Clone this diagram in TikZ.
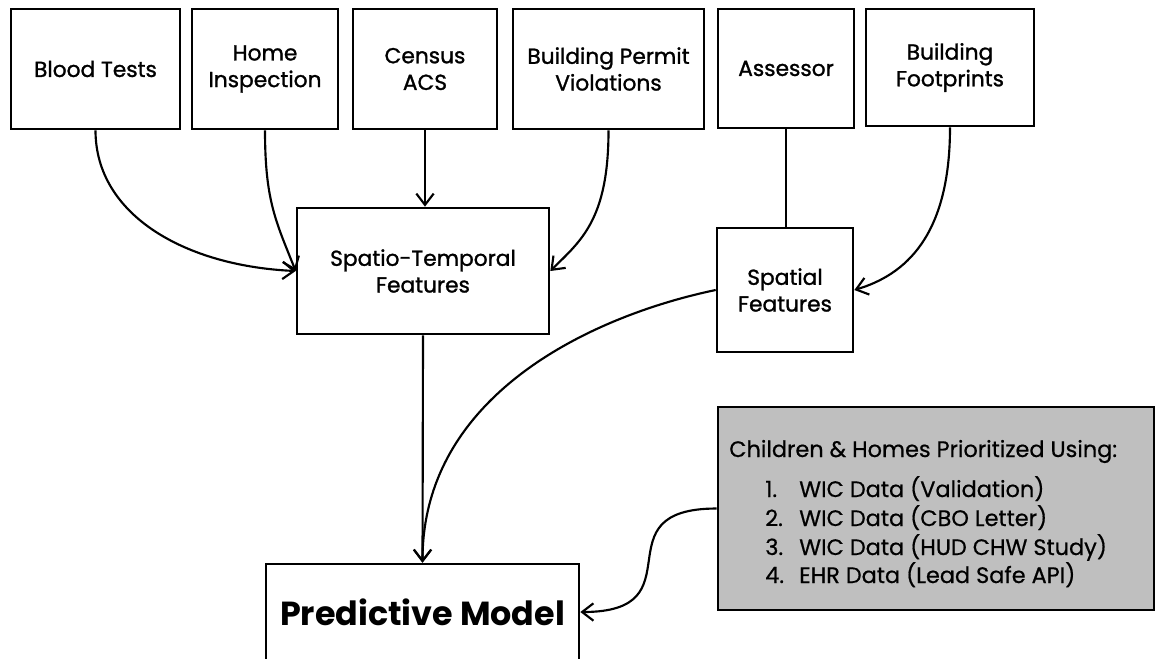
\documentclass[tikz,border=0pt]{standalone}
\usepackage{fontspec}
\setmainfont{Poppins}
\newfontfamily\labelf[FakeBold=1.2]{Poppins}
\newfontfamily\grayf[FakeBold=0.6]{Poppins}
\usetikzlibrary{arrows.meta}
\begin{document}
\def\u{0.75pt}
\begin{tikzpicture}[x=0.75pt,y=-0.75pt,
  box/.style={draw=black, line width=2pt, fill=white, inner sep=0pt, align=center,
              font=\labelf\fontsize{16.3}{20}\selectfont},
  conn/.style={line width=1.6pt, -{Straight Barb[length=8.5pt,width=13pt,line width=1.6pt]}},
  link/.style={line width=1.6pt},
  graytext/.style={font=\grayf\fontsize{16.8}{20}\selectfont, anchor=base west, inner sep=0pt}]
\useasboundingbox (0,0) rectangle (1155,658);
\fill[white] (0,0) rectangle (1155,658);
% top row
\node[box, minimum width=169*\u, minimum height=120*\u] (blood) at (95.5,69) {Blood Tests};
\node[box, minimum width=146*\u, minimum height=120*\u] (home) at (265,69) {Home\\Inspection};
\node[box, minimum width=144*\u, minimum height=120*\u] (census) at (425,69) {Census\\ACS};
\node[box, minimum width=191*\u, minimum height=120*\u] (permit) at (608.5,69) {Building Permit\\Violations};
\node[box, minimum width=136*\u, minimum height=119*\u] (assessor) at (786,68.5) {Assessor};
\node[box, minimum width=168*\u, minimum height=117*\u] (foot) at (950,67.5) {Building\\Footprints};
% middle
\node[box, minimum width=252*\u, minimum height=126*\u] (spatio) at (423,271) {Spatio-Temporal\\Features};
\node[box, minimum width=136*\u, minimum height=124*\u] (spatial) at (785,290) {Spatial\\Features};
% bottom
\node[box, minimum width=313*\u, minimum height=96*\u, font=\fontsize{25}{30}\selectfont\bfseries] (pred) at (422.5,612) {Predictive Model};
\node[draw=black, line width=2pt, fill=black!25, inner sep=0pt, minimum width=436*\u, minimum height=203*\u] (gray) at (936,508.5) {};
\node[graytext] (h0) at (729,457) {Children \& Homes Prioritized Using:};
\node[graytext] (h1) at (765,497) {\makebox[25.5pt][l]{1.}WIC Data (Validation)};
\node[graytext] (h2) at (765,526) {\makebox[25.5pt][l]{2.}WIC Data (CBO Letter)};
\node[graytext] (h3) at (765,555) {\makebox[25.5pt][l]{3.}WIC Data (HUD CHW Study)};
\node[graytext] (h4) at (765,583) {\makebox[25.5pt][l]{4.}EHR Data (Lead Safe API)};
% connectors
\draw[conn] (blood.south) .. controls +(0,85) and +(-110,-5) .. (spatio.west);
\draw[conn] (home.south) .. controls +(0,70) and +(-20,-50) .. (spatio.west);
\draw[conn] (census.south) -- (spatio.north -| census.south);
\draw[conn] (permit.south) .. controls +(0,90) and +(30,-30) .. (spatio.east);
\draw[link] (assessor.south) -- (spatial.north -| assessor.south);
\draw[conn] (foot.south) .. controls +(0,110) and +(50,-15) .. (spatial.east);
\draw[conn] (spatio.south) -- (pred.north);
\draw[conn] (spatial.west) .. controls +(-120,25) and +(0,-170) .. (pred.north);
\draw[conn] (gray.west) .. controls +(-120,0) and +(120,0) .. (pred.east);
\end{tikzpicture}
\end{document}
